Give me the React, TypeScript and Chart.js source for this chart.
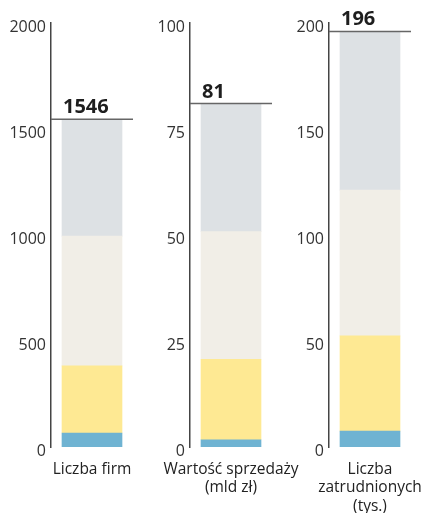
import React, { useEffect, useRef } from "react";
import { Chart, registerables } from "chart.js";

Chart.register(...registerables);

// ---- Data ----
const categories: string[][] = [
  ["Liczba firm"],
  ["Wartość sprzedaży", "(mld zł)"],
  ["Liczba", "zatrudnionych", "(tys.)"],
];
const blueValues = [66, 1.7, 7.5];
const yellowValues = [317, 19.0, 44.9];
const beigeValues = [612, 30.1, 68.8];
const grayValues = [551, 30.2, 74.8];
const totals = [1546, 81, 196];
const axisMax = [2000, 100, 200];
const tickSteps = [500, 25, 50];

const COLORS = ["#6fb3d2", "#fee993", "#f1eee7", "#dde1e4"];
const FONT = "'Open Sans', 'Noto Sans', sans-serif";

const CANVAS_W = 180;
const CANVAS_H = 505;
const PANEL_STEP = 139;
const OFFSET = 8;

function Panel({ index }: { index: number }) {
  const ref = useRef<HTMLCanvasElement | null>(null);

  useEffect(() => {
    if (!ref.current) return;
    const series = [blueValues, yellowValues, beigeValues, grayValues];
    const total = totals[index];

    const totalPlugin = {
      id: "totalLine",
      afterDatasetsDraw(chart: any) {
        const { ctx, chartArea } = chart;
        const y = chart.scales.y.getPixelForValue(total);
        const bar = chart.getDatasetMeta(0).data[0] as any;
        const barLeft = bar.x - bar.width / 2;
        ctx.save();
        ctx.strokeStyle = "#666666";
        ctx.lineWidth = 1.5;
        ctx.beginPath();
        ctx.moveTo(chartArea.left, y);
        ctx.lineTo(chartArea.right, y);
        ctx.stroke();
        ctx.fillStyle = "#1e1e1e";
        ctx.font = `bold 20px ${FONT}`;
        ctx.textAlign = "left";
        ctx.textBaseline = "alphabetic";
        ctx.fillText(String(total), barLeft + 1, y - 6);
        ctx.restore();
      },
    };

    const chart = new Chart(ref.current, {
      type: "bar",
      data: {
        labels: [categories[index]],
        datasets: series.map((vals, i) => ({
          label: `s${i}`,
          data: [vals[index]],
          backgroundColor: COLORS[i],
          borderWidth: 0,
          barThickness: 60,
        })),
      },
      options: {
        responsive: false,
        animation: false,
        devicePixelRatio: 1,
        layout: { padding: { top: 15, right: CANVAS_W - 125, left: 0, bottom: 0 } },
        plugins: {
          legend: { display: false },
          tooltip: { enabled: false },
        },
        scales: {
          x: {
            stacked: true,
            grid: { display: false, drawTicks: false },
            border: { display: false },
            ticks: {
              color: "#222222",
              font: { family: FONT, size: 15.5, lineHeight: 1.19 },
              padding: 13,
              maxRotation: 0,
              autoSkip: false,
            },
            afterFit: (axis: any) => {
              axis.height = 66;
              axis.paddingLeft = 0;
              axis.paddingRight = 0;
            },
          },
          y: {
            stacked: true,
            min: 0,
            max: axisMax[index],
            grid: { display: false, drawTicks: false },
            border: { display: true, color: "#444444", width: 1.5 },
            ticks: {
              stepSize: tickSteps[index],
              color: "#333333",
              font: { family: FONT, size: 16 },
              padding: 5,
              labelOffset: 4,
              callback: (v: any) => String(v),
            },
            afterFit: (axis: any) => {
              axis.width = 43;
            },
          },
        },
      },
      plugins: [totalPlugin],
    } as any);

    return () => chart.destroy();
  }, [index]);

  return (
    <canvas
      ref={ref}
      width={CANVAS_W}
      height={CANVAS_H}
      style={{
        position: "absolute",
        left: OFFSET + index * PANEL_STEP,
        top: OFFSET,
        width: CANVAS_W,
        height: CANVAS_H,
        display: "block",
      }}
    />
  );
}

export default function App() {
  return (
    <>
      <style>{`body{margin:0;}`}</style>
      <div
        style={{
          position: "relative",
          width: 427,
          height: 513,
          overflow: "hidden",
          background: "#ffffff",
        }}
      >
        <Panel index={0} />
        <Panel index={1} />
        <Panel index={2} />
      </div>
    </>
  );
}
